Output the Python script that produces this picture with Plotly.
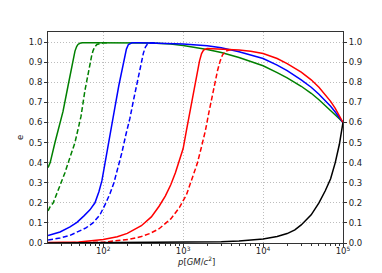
import plotly.graph_objects as go

# ---- data ----
green_solid_p = [20.4, 21.7, 24.9, 28, 31.4, 36.2, 40.6, 44.3, 46.5, 48.3, 51, 55, 70, 150, 300, 400, 700, 1000, 2000, 3000, 5000, 7000, 10000, 15000, 20000, 30000, 40000, 50000, 60000, 70000, 80000, 90000, 100000]
green_solid_e = [0.375, 0.4, 0.5, 0.575, 0.655, 0.78, 0.885, 0.955, 0.978, 0.988, 0.994, 0.996, 0.997, 0.997, 0.996, 0.995, 0.99, 0.983, 0.963, 0.948, 0.923, 0.904, 0.882, 0.848, 0.822, 0.78, 0.745, 0.713, 0.685, 0.66, 0.638, 0.618, 0.6]

green_dash_p = [20.4, 21.6, 23.7, 26.5, 30, 33.2, 36.5, 40, 44.3, 48, 52.7, 59.1, 64, 68.2, 71.5, 74.3, 78, 83.4, 90, 100, 120]
green_dash_e = [0.16, 0.18, 0.2, 0.25, 0.3, 0.35, 0.4, 0.45, 0.5, 0.56, 0.63, 0.76, 0.84, 0.89, 0.93, 0.955, 0.975, 0.988, 0.993, 0.996, 0.997]

blue_solid_p = [20.4, 28.8, 38.4, 46.9, 57.4, 68.2, 78.8, 88.3, 96.3, 105, 114.5, 124.8, 140, 157, 171.3, 184, 195, 206.5, 228.4, 287.6, 400, 700, 1000, 2000, 3000, 5000, 7000, 10000, 15000, 20000, 30000, 40000, 50000, 60000, 70000, 80000, 90000, 100000]
blue_solid_e = [0.037, 0.055, 0.08, 0.103, 0.135, 0.165, 0.2, 0.255, 0.31, 0.39, 0.475, 0.56, 0.675, 0.785, 0.865, 0.925, 0.965, 0.988, 0.996, 0.997, 0.996, 0.993, 0.99, 0.982, 0.972, 0.952, 0.936, 0.918, 0.885, 0.858, 0.812, 0.775, 0.74, 0.71, 0.68, 0.652, 0.625, 0.6]

blue_dash_p = [20.4, 28.8, 38.4, 48.3, 60.8, 74.4, 91.0, 108.1, 121.3, 136.1, 152.7, 171.3, 192.2, 215.6, 241.9, 271.5, 296, 318.2, 337, 356.9, 394.6, 483]
blue_dash_e = [0.015, 0.025, 0.038, 0.055, 0.075, 0.1, 0.14, 0.2, 0.245, 0.3, 0.37, 0.45, 0.54, 0.62, 0.72, 0.82, 0.89, 0.945, 0.975, 0.99, 0.996, 0.997]

red_solid_p = [20.4, 50, 100, 150, 200, 300, 400, 500, 600, 700, 800, 900, 1000, 1100, 1200, 1300, 1400, 1500, 1600, 1700, 1800, 2000, 3000, 5000, 7000, 10000, 15000, 20000, 30000, 40000, 50000, 60000, 70000, 80000, 90000, 100000]
red_solid_e = [0.002, 0.005, 0.017, 0.031, 0.048, 0.086, 0.13, 0.183, 0.235, 0.29, 0.35, 0.41, 0.47, 0.56, 0.64, 0.72, 0.79, 0.85, 0.905, 0.943, 0.96, 0.968, 0.966, 0.96, 0.954, 0.943, 0.918, 0.893, 0.85, 0.812, 0.775, 0.74, 0.705, 0.67, 0.635, 0.6]

red_dash_p = [20.4, 100, 215.8, 300, 383, 500, 700, 900, 1100, 1300, 1500, 1700, 1900, 2100, 2300, 2500, 2700, 2900, 3100, 3400, 4000]
red_dash_e = [0.0, 0.004, 0.019, 0.032, 0.047, 0.071, 0.12, 0.177, 0.24, 0.32, 0.395, 0.48, 0.56, 0.65, 0.73, 0.81, 0.86, 0.905, 0.935, 0.955, 0.963]

black_p = [20.4, 1000, 3000, 5000, 7000, 10000, 15000, 20000, 25000, 30000, 40000, 50000, 60000, 70000, 80000, 90000, 100000]
black_e = [0.0, 0.002, 0.006, 0.01, 0.014, 0.02, 0.032, 0.047, 0.065, 0.09, 0.14, 0.2, 0.26, 0.32, 0.4, 0.49, 0.6]

x_tick_vals = [100, 1000, 10000, 100000]
x_tick_text = ["10<sup>2</sup>", "10<sup>3</sup>", "10<sup>4</sup>", "10<sup>5</sup>"]
x_minor_vals = [m * 10 ** k for k in range(1, 5) for m in range(2, 10)]
y_tick_vals = [0.0, 0.1, 0.2, 0.3, 0.4, 0.5, 0.6, 0.7, 0.8, 0.9, 1.0]
y_tick_text = ["%.1f" % v for v in y_tick_vals]
x_title = "<i>p</i>[<i>GM</i>/<i>c</i><sup>2</sup>]"
y_title = "e"

DASH = "5px,2.5px"
series = [
    (green_solid_p, green_solid_e, "green", "solid"),
    (green_dash_p, green_dash_e, "green", DASH),
    (blue_solid_p, blue_solid_e, "blue", "solid"),
    (blue_dash_p, blue_dash_e, "blue", DASH),
    (red_solid_p, red_solid_e, "red", "solid"),
    (red_dash_p, red_dash_e, "red", DASH),
    (black_p, black_e, "black", "solid"),
]

fig = go.Figure()
for p, e, c, d in series:
    fig.add_trace(go.Scatter(x=p, y=e, mode="lines",
                             line=dict(color=c, width=1.5, dash=d),
                             showlegend=False, hoverinfo="skip"))
# invisible trace so the right-hand axis is drawn
fig.add_trace(go.Scatter(x=[100], y=[0.5], yaxis="y2", mode="markers",
                         marker=dict(opacity=0), showlegend=False, hoverinfo="skip"))

# the page body has an 8px margin, so the figure is sized to fill the rest of the window
font = dict(family="DejaVu Sans", size=8.5, color="#222")
fig.update_layout(
    width=374, height=265,
    margin=dict(l=40, r=39, t=24, b=30),
    paper_bgcolor="white", plot_bgcolor="white",
    font=font,
    xaxis=dict(type="log", range=[1.309, 5.0], tickvals=x_tick_vals, ticktext=x_tick_text,
               ticks="outside", ticklen=3, tickcolor="#333", tickwidth=1, ticklabelstandoff=-3,
               showgrid=True, gridcolor="#bdbdbd", griddash="1px,2px", gridwidth=1,
               showline=True, linecolor="#333", linewidth=1, mirror=True,
               minor=dict(tickvals=x_minor_vals, ticks="outside", ticklen=2, tickcolor="#333", showgrid=False),
               zeroline=False, automargin=False),
    yaxis=dict(range=[0, 1.05], tickvals=y_tick_vals, ticktext=y_tick_text,
               ticks="outside", ticklen=3, tickcolor="#333",
               showgrid=True, gridcolor="#bdbdbd", griddash="1px,2px", gridwidth=1,
               showline=True, linecolor="#333", linewidth=1, mirror=True,
               title=dict(text=y_title, standoff=3, font=font), zeroline=False, automargin=False),
    yaxis2=dict(range=[0, 1.05], tickvals=y_tick_vals, ticktext=y_tick_text,
                overlaying="y", side="right", matches="y",
                ticks="outside", ticklen=3, tickcolor="#333",
                showgrid=False, showline=False, zeroline=False, automargin=False),
    annotations=[dict(text=x_title, xref="paper", yref="paper", x=0.5, y=0,
                      xanchor="center", yanchor="top", yshift=-10, showarrow=False, font=font)],
)

fig.write_html("out.html")
